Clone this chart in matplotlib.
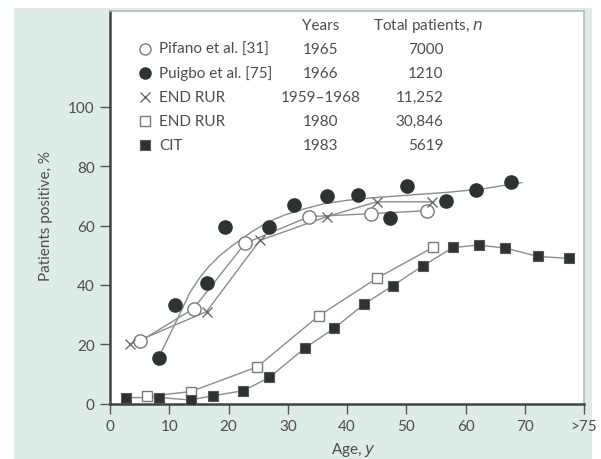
import matplotlib
matplotlib.use('Agg')
import matplotlib.pyplot as plt
from matplotlib.patches import Rectangle

plt.rcParams['font.family'] = ['Lato', 'DejaVu Sans']

# --- data ---
pifano_age = [5.1, 14.1, 22.8, 33.6, 44.1, 53.5]
pifano_pct = [21, 32, 54, 63, 64, 65]

puigbo_age = [8.2, 11.0, 16.3, 19.4, 26.9, 31.0, 36.6, 41.9, 47.2, 50.2, 56.7, 61.7, 67.6]
puigbo_pct = [15.5, 33.2, 40.6, 59.4, 59.6, 67.0, 70.0, 70.4, 62.7, 73.4, 68.3, 72.0, 74.7]
# smooth curve drawn through the Puigbo points
puigbo_fit_age = [8.2, 11.5, 13.5, 15.0, 16.5, 18.6, 20.5, 22.0, 24.0, 26.5, 29.5, 32.6, 36.0,
                  40.0, 44.0, 50.0, 57.0, 63.0, 69.5]
puigbo_fit_pct = [15.5, 29.0, 37.5, 42.0, 45.8, 50.0, 53.0, 55.2, 58.0, 61.0, 63.6, 65.5, 67.3,
                  68.5, 69.3, 70.2, 71.2, 72.4, 74.5]

rur59_age = [3.4, 16.3, 25.3, 36.6, 45.0, 54.3]
rur59_pct = [20, 31, 55, 63, 68, 68]

rur80_age = [6.3, 13.6, 24.8, 35.2, 45.0, 54.5]
rur80_pct = [2.4, 4.0, 12.3, 29.5, 42.2, 52.6]

cit_age = [2.7, 8.3, 13.6, 17.3, 22.5, 26.9, 32.9, 37.8, 42.9, 47.7, 52.8, 57.9, 62.2, 66.7, 72.2, 77.4]
cit_pct = [2.0, 2.0, 1.2, 2.6, 4.3, 8.8, 18.7, 25.3, 33.5, 39.7, 46.4, 52.6, 53.4, 52.4, 49.6, 48.9]

x_ticks = [0, 10, 20, 30, 40, 50, 60, 70, 80]
x_labels = ['0', '10', '20', '30', '40', '50', '60', '70', '>75']
y_ticks = [0, 20, 40, 60, 80, 100]

legend_names = ['Pifano et al. [31]', 'Puigbo et al. [75]', 'END RUR', 'END RUR', 'CIT']
legend_years = ['1965', '1966', '1959\u20131968', '1980', '1983']
legend_n = ['7000', '1210', '11,252', '30,846', '5619']

# --- styles ---
line_c = '#8c8c8c'
dark = '#2e3331'
txt_c = '#4a4f4d'
tint = '#dfebe7'

fig = plt.figure(figsize=(6.01, 4.60), dpi=100, facecolor='white')
# tinted panel behind the chart
fig.patches.append(Rectangle((14 / 601, 0), (592 - 14) / 601, (460 - 9) / 460,
                             transform=fig.transFigure, facecolor=tint,
                             edgecolor='none', zorder=-10))

ax = fig.add_axes([110 / 601, (460 - 404.5) / 460, 474 / 601, 393 / 460])
ax.set_facecolor('white')

# lines
ax.plot(pifano_age, pifano_pct, color=line_c, lw=1, zorder=2)
ax.plot(rur59_age, rur59_pct, color=line_c, lw=1, zorder=2)
ax.plot(puigbo_fit_age, puigbo_fit_pct, color=line_c, lw=1, zorder=2)
ax.plot(rur80_age, rur80_pct, color=line_c, lw=1, zorder=2)
ax.plot(cit_age, cit_pct, color=line_c, lw=1, zorder=2)

# markers
ax.plot(pifano_age, pifano_pct, 'o', ms=9.5, mfc='white', mec='#7a7a7a', mew=1, zorder=3)
ax.plot(puigbo_age, puigbo_pct, 'o', ms=9.5, mfc=dark, mec=dark, zorder=3)
ax.plot(rur59_age, rur59_pct, 'x', ms=7, mec='#6a6a6a', mew=1, zorder=3)
ax.plot(rur80_age, rur80_pct, 's', ms=7.5, mfc='white', mec='#7a7a7a', mew=1, zorder=3)
ax.plot(cit_age, cit_pct, 's', ms=7.5, mfc=dark, mec='#555', mew=0.8, zorder=3)

ax.set_xlim(0, 80)
ax.set_ylim(0, 132.5)
ax.set_xticks(x_ticks)
ax.set_xticklabels(x_labels)
ax.set_yticks(y_ticks)

ax.tick_params(axis='both', direction='out', length=7, width=1, color='#555',
               labelsize=11, labelcolor=txt_c, pad=4)

for s in ['left', 'bottom']:
    ax.spines[s].set_color('#3f4442')
    ax.spines[s].set_linewidth(1.8)
for s in ['top', 'right']:
    ax.spines[s].set_color('#b5bcb9')
    ax.spines[s].set_linewidth(1.2)

ax.set_ylabel('Patients positive, %', fontsize=11, color=txt_c)
ax.yaxis.set_label_coords(-0.12, 0.48)
ax.set_xlabel('Age, $\\it{y}$', fontsize=11, color=txt_c)
ax.xaxis.set_label_coords(0.513, -0.092)

# legend drawn as a small table
rows_y = [0.903, 0.842, 0.779, 0.718, 0.657]
styles = [
    dict(marker='o', ms=8, mfc='white', mec='#7a7a7a', mew=1),
    dict(marker='o', ms=8, mfc=dark, mec=dark),
    dict(marker='x', ms=6.5, mec='#6a6a6a', mew=1),
    dict(marker='s', ms=6.5, mfc='white', mec='#7a7a7a', mew=1),
    dict(marker='s', ms=6.5, mfc=dark, mec='#555', mew=0.8),
]
tkw = dict(transform=ax.transAxes, fontsize=11, color=txt_c, va='center')
ax.text(0.445, 0.962, 'Years', ha='center', **tkw)
ax.text(0.67, 0.962, 'Total patients, $\\it{n}$', ha='center', **tkw)
for yy, st, name, yr, n in zip(rows_y, styles, legend_names, legend_years, legend_n):
    ax.plot([0.074], [yy], transform=ax.transAxes, linestyle='none', clip_on=False, **st)
    ax.text(0.103, yy, name, ha='left', **tkw)
    ax.text(0.445, yy, yr, ha='center', **tkw)
    ax.text(0.703, yy, n, ha='right', **tkw)

plt.savefig('out.png', dpi=100)
plt.close()
